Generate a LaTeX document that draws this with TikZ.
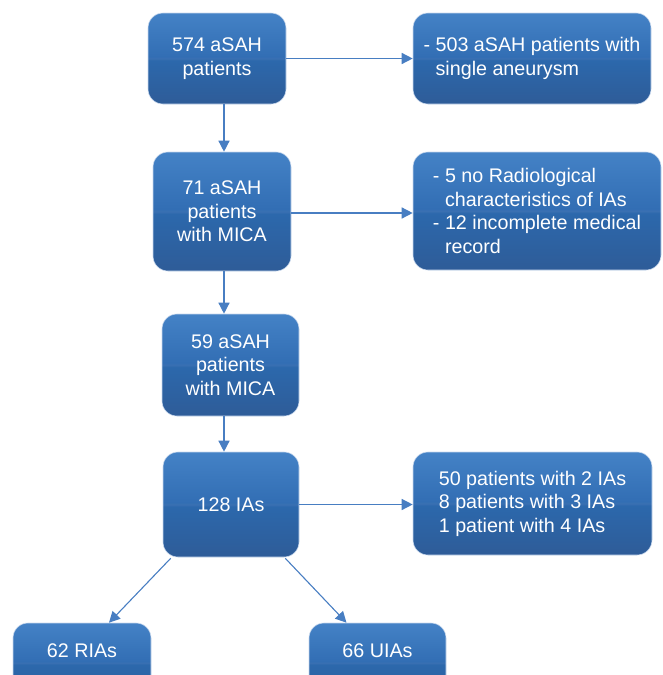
\documentclass[tikz,border=0pt]{standalone}
\usepackage{fontspec}
\setmainfont{Liberation Sans}
\usetikzlibrary{arrows.meta,calc}
\definecolor{btop}{RGB}{68,130,198}
\definecolor{bmidA}{RGB}{50,110,180}
\definecolor{bmidB}{RGB}{58,112,178}
\definecolor{bmidC}{RGB}{44,104,172}
\definecolor{bbot}{RGB}{46,92,152}
\definecolor{arrowc}{RGB}{72,126,194}
\pgfdeclareverticalshading{boxshade}{100bp}{color(0bp)=(bbot); color(25bp)=(bbot); color(49bp)=(bmidC); color(50bp)=(bmidB); color(51bp)=(bmidA); color(75bp)=(btop); color(100bp)=(btop)}
\tikzset{
  bluebox/.style={shading=boxshade, draw=white!70!arrowc, line width=0.6pt,
    rounded corners=15pt, text=white, align=center, inner sep=0pt,
    font=\fontsize{19.7}{23.6}\selectfont},
  sidebox/.style={bluebox, align=left},
  conn/.style={draw=arrowc, line width=1.4pt, -{Triangle[length=11pt,width=11pt]}}
}
\begin{document}
\begin{tikzpicture}[x=1pt,y=-1pt]
\useasboundingbox (0,0) rectangle (662,675);
\clip (0,0) rectangle (662,675);
% main column
\node[bluebox, minimum width=138pt, minimum height=91pt] (b1) at (217,58.5) {574 aSAH\\patients};
\node[bluebox, minimum width=138pt, minimum height=119pt] (b2) at (222,211.5) {71 aSAH\\patients\\with MICA};
\node[bluebox, minimum width=137pt, minimum height=102pt] (b3) at (230.5,365) {59 aSAH\\patients\\with MICA};
\node[bluebox, minimum width=136pt, minimum height=105pt] (b4) at (231,504.5) {128 IAs};
% side boxes
\node[sidebox, minimum width=238pt, minimum height=91pt] (r1) at (532,58.5) {- 503 aSAH patients with\\\hspace*{0.611em}single aneurysm};
\node[sidebox, minimum width=248pt, minimum height=118pt] (r2) at (537,211) {- 5 no Radiological\\\hspace*{0.611em}characteristics of IAs\\- 12 incomplete medical\\\hspace*{0.611em}record};
\node[sidebox, minimum width=239pt, minimum height=103pt] (r4) at (532.5,503.5) {50 patients with 2 IAs\\8 patients with 3 IAs\\1 patient with 4 IAs};
% bottom boxes (cut off at the bottom edge)
\node[bluebox, minimum width=138pt, minimum height=80pt] (ria) at (82,663) {};
\node[text=white, font=\fontsize{19.7}{23.6}\selectfont] at (82,651) {62 RIAs};
\node[bluebox, minimum width=137pt, minimum height=80pt] (uia) at (377.5,663) {};
\node[text=white, font=\fontsize{19.7}{23.6}\selectfont] at (377.5,651) {66 UIAs};
% connectors
\draw[conn] (b1.east) -- (b1.east -| r1.west);
\draw[conn] ([xshift=7pt]b1.south) -- ([xshift=7pt]b1.south |- b2.north);
\draw[conn] ([yshift=-1.5pt]b2.east) -- ([yshift=-1.5pt]b2.east -| r2.west);
\draw[conn] ([xshift=2pt]b2.south) -- ([xshift=2pt]b2.south |- b3.north);
\draw[conn] ([xshift=-6.5pt]b3.south) -- ([xshift=-6.5pt]b3.south |- b4.north);
\draw[conn] (b4.east) -- (b4.east -| r4.west);
\draw[conn, line width=1.1pt] ([xshift=8pt,yshift=-1pt]b4.south west) -- ([xshift=27pt]ria.north);
\draw[conn, line width=1.1pt] ([xshift=-14pt,yshift=-1pt]b4.south east) -- ([xshift=-31pt]uia.north);
\end{tikzpicture}
\end{document}
